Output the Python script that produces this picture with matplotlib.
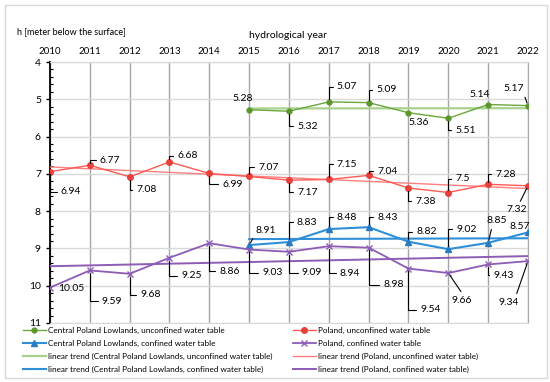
import numpy as np
import matplotlib
matplotlib.use("Agg")
import matplotlib.pyplot as plt
from matplotlib.patches import Rectangle
from matplotlib.ticker import MultipleLocator

plt.rcParams["font.family"] = ["Lato", "DejaVu Sans"]

years = list(range(2010, 2023))
years_cpl = list(range(2015, 2023))

cpl_unconfined = [5.28, 5.32, 5.07, 5.09, 5.36, 5.51, 5.14, 5.17]
pl_unconfined = [6.94, 6.77, 7.08, 6.68, 6.99, 7.07, 7.17, 7.15, 7.04, 7.38, 7.5, 7.28, 7.32]
cpl_confined = [8.91, 8.83, 8.48, 8.43, 8.82, 9.02, 8.85, 8.57]
pl_confined = [10.05, 9.59, 9.68, 9.25, 8.86, 9.03, 9.09, 8.94, 8.98, 9.54, 9.66, 9.43, 9.34]

names = [
    "Central Poland Lowlands, unconfined water table",
    "Poland, unconfined water table",
    "Central Poland Lowlands, confined water table",
    "Poland, confined water table",
]

# label placement: (dx, dy) in pixels from the point to the text's left-centre,
# leader: None, "L" (elbow) or relpos tuple for a straight leader
lab_cpl_unc = [(-17, 11, None), (8, -15, "L"), (8, 15, "L"), (8, 13, "L"),
               (0, -10, None), (7, -12, "L"), (-19, 10, None), (-25, 17, (1, 0))]
lab_pl_unc = [(11, -20, "L"), (10, 5, "L"), (7, -13, "L"), (8, 6, "L"), (13, -11, "L"),
              (9, 9, "L"), (8, -12, "L"), (8, 15, "L"), (9, 4, "L"), (7, -13, "L"),
              (7, 14, "L"), (7, 10, "L"), (-22, -24, (0.6, 1))]
lab_cpl_con = [(6, 15, (0, 0)), (8, 20, "L"), (8, 12, "L"), (9, 10, "L"),
               (8, 10, "L"), (8, 20, "L"), (-2, 22, (0.3, 0)), (-18, 6, None)]
lab_pl_con = [(8, -1, None), (12, -31, "L"), (11, -21, "L"), (12, -18, "L"), (10, -28, "L"),
              (13, -23, "L"), (13, -21, "L"), (11, -27, "L"), (15, -37, "L"), (12, -41, "L"),
              (3, -27, (0.6, 1)), (5, -11, "L"), (-29, -41, (0.8, 1))]

fig = plt.figure(figsize=(5.5, 3.82), dpi=100)
fig.patches.append(Rectangle((5 / 550, 4 / 382), 542 / 550, 373 / 382, transform=fig.transFigure,
                             fill=False, edgecolor="#d9d9d9", linewidth=1))
ax = fig.add_axes([50 / 550, 1 - 323 / 382, 478 / 550, 261 / 382])

ax.set_xlim(2010, 2022)
ax.set_ylim(11, 4)
ax.set_xticks(years)
ax.xaxis.tick_top()
ax.tick_params(axis="x", length=0, labelsize=7, pad=4)
ax.yaxis.set_major_locator(MultipleLocator(1))
ax.yaxis.set_minor_locator(MultipleLocator(0.2))
ax.tick_params(axis="y", which="major", direction="out", length=3, width=1, labelsize=7.5)
ax.tick_params(axis="y", which="minor", direction="in", length=2.5, width=0.8)
ax.grid(axis="y", color="#d9d9d9", linewidth=1)
ax.grid(axis="x", color="#a6a6a6", linewidth=1)
ax.set_axisbelow(True)
for s in ["top", "bottom"]:
    ax.spines[s].set_color("#d9d9d9")
ax.spines["right"].set_color("#a6a6a6")
ax.spines["left"].set_linewidth(1.3)

series = [
    (years_cpl, cpl_unconfined, "#6aa63a", "#5b962c", "o", 3.5, 1.0, "#a9d18e", 1.6, lab_cpl_unc),
    (years, pl_unconfined, "#ff5a55", "#e8403a", "o", 4, 1.0, "#ff7f7f", 1.0, lab_pl_unc),
    (years_cpl, cpl_confined, "#2f8fd8", "#2a7cc0", "^", 4, 1.5, "#2f8fd8", 1.5, lab_cpl_con),
    (years, pl_confined, "#8d5cb5", "#8d5cb5", "x", 4, 1.3, "#8d5cb5", 1.4, lab_pl_con),
]

data_handles = []
trend_handles = []
for (xs, ys, col, mcol, mk, ms, lw, tcol, tlw, labs), name in zip(series, names):
    h, = ax.plot(xs, ys, color=col, lw=lw, marker=mk, ms=ms, mfc=mcol, mec=mcol, zorder=4)
    coef = np.polyfit(xs, ys, 1)
    xt = np.array([xs[0], xs[-1]])
    t, = ax.plot(xt, np.polyval(coef, xt), color=tcol, lw=tlw, zorder=3)
    data_handles.append((h, name))
    trend_handles.append((t, f"linear trend ({name})"))
    for x, y, (dx, dy, lead) in zip(xs, ys, labs):
        kw = {}
        if lead == "L":
            kw["arrowprops"] = dict(arrowstyle="-", color="black", lw=0.8, shrinkA=1, shrinkB=2,
                                    relpos=(0, 0.5), connectionstyle="angle,angleA=0,angleB=90,rad=0")
        elif lead is not None:
            kw["arrowprops"] = dict(arrowstyle="-", color="black", lw=0.8, shrinkA=1, shrinkB=2,
                                    relpos=lead)
        ax.annotate(f"{y:g}", (x, y), xytext=(dx, dy), textcoords="offset pixels",
                    ha="left", va="center", fontsize=7.5, zorder=5, **kw)

fig.text(17 / 550, 1 - 32 / 382, "h [meter below the surface]", fontsize=6.5, va="center", ha="left")
fig.text(288 / 550, 1 - 35 / 382, "hydrological year", fontsize=7.5, va="center", ha="center")

order = [data_handles[0], data_handles[2], trend_handles[0], trend_handles[2],
         data_handles[1], data_handles[3], trend_handles[1], trend_handles[3]]
fig.legend([o[0] for o in order], [o[1] for o in order], ncol=2, loc="upper left",
           bbox_to_anchor=(23 / 550, 1 - 327 / 382), frameon=False, fontsize=5.9,
           handlelength=2.8, handletextpad=0.3, columnspacing=2.4, labelspacing=0.7,
           borderaxespad=0, borderpad=0)

fig.savefig("out.png", dpi=100)
